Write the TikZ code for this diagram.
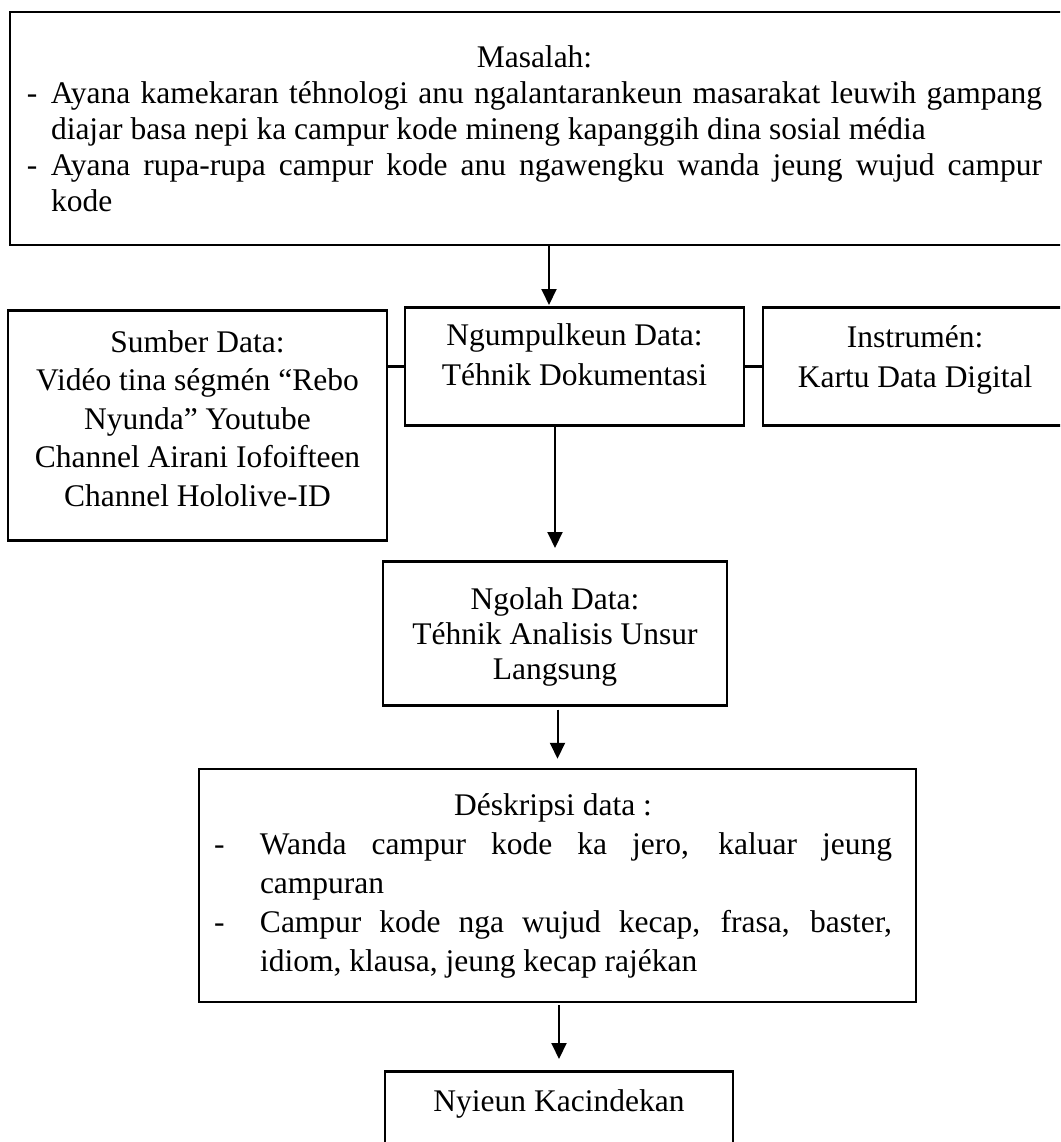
\documentclass[tikz,border=0pt]{standalone}
\usepackage{fontspec}
\setmainfont{Liberation Serif}
\usetikzlibrary{positioning, arrows.meta, calc}

\tikzset{
  box/.style={draw, line width=2.5pt, inner sep=0pt},
  topbox/.style={box, anchor=north},
  arr/.style={line width=2pt, -{Triangle[length=16pt,width=15pt]}},
  link/.style={line width=3pt},
}
\newcommand{\lines}[1]{\begin{tabular}[t]{@{}c@{}}#1\end{tabular}}
\newcommand{\justset}{\parindent=0pt \hyphenpenalty=10000 \tolerance=10000
  \spaceskip=.25em plus 1em minus .08em \xspaceskip=0pt}

\begin{document}
\begin{tikzpicture}[x=1pt, y=-1pt]
    \useasboundingbox (0,0) rectangle (1060,1142);
    \clip (0,0) rectangle (1060,1142);
    % problem box
    \node[box, font=\fontsize{31.5}{36}\selectfont, minimum width=1064pt, minimum height=233pt,
      text width=1047pt, inner xsep=8.5pt] (masalah) at (542,128.5) {%
      \justset \leftskip=8.5pt plus 1fil \rightskip=23.5pt plus 1fil \parfillskip=0pt
      Masalah:\par
      \leftskip=8.5pt \rightskip=23.5pt \parfillskip=0pt plus 1fil
      \hangindent=24pt \makebox[24pt][l]{-}Ayana kamekaran téhnologi anu ngalantarankeun masarakat leuwih gampang\linebreak
      diajar basa nepi ka campur kode mineng kapanggih dina sosial média\par
      \hangindent=24pt \makebox[24pt][l]{-}Ayana rupa-rupa campur kode anu ngawengku wanda jeung wujud campur\linebreak
      kode\par};
    % middle row
    \node[topbox, font=\fontsize{31.5}{38.5}\selectfont, minimum width=379pt,
      text height=42pt, text depth=188pt] (sumber) at (197.5,309)
      {\lines{Sumber Data:\\Vidéo tina ségmén “Rebo\\Nyunda” Youtube\\Channel Airani Iofoifteen\\Channel Hololive-ID}};
    \node[topbox, font=\fontsize{31.5}{40}\selectfont, minimum width=339pt,
      text height=38pt, text depth=80pt] (kumpul) at (574.5,306)
      {\lines{Ngumpulkeun Data:\\Téhnik Dokumentasi}};
    \node[topbox, font=\fontsize{31.5}{40}\selectfont, minimum width=320pt,
      text height=40pt, text depth=78pt] (instrumen) at (923,306)
      {\begin{tabular}[t]{@{}c@{\hspace{16pt}}}Instrumén:\\Kartu Data Digital\end{tabular}};
    % processing
    \node[topbox, font=\fontsize{31.5}{35}\selectfont, minimum width=344pt,
      text height=48pt, text depth=96pt] (olah) at (555,560)
      {\lines{Ngolah Data:\\Téhnik Analisis Unsur\\Langsung}};
    % description
    \node[box, font=\fontsize{31.5}{39}\selectfont, minimum width=717pt, minimum height=233pt,
      text width=687pt, inner xsep=15pt] (deskripsi) at (557.5,885.5) {%
      \justset \leftskip=0pt plus 1fil \rightskip=9pt plus 1fil \parfillskip=0pt
      Déskripsi data :\par
      \leftskip=0pt \rightskip=9pt \parfillskip=0pt plus 1fil
      \hangindent=46pt \makebox[46pt][l]{-}Wanda campur kode ka jero, kaluar jeung\linebreak
      campuran\par
      \hangindent=46pt \makebox[46pt][l]{-}Campur kode nga wujud kecap, frasa, baster,\linebreak
      idiom, klausa, jeung kecap rajékan\par};
    % conclusion
    \node[topbox, font=\fontsize{31.5}{38}\selectfont, minimum width=348pt,
      text height=40pt, text depth=80pt] (nyieun) at (559,1070) {Nyieun Kacindekan};
    % connectors
    \coordinate (a1) at (549,0);
    \draw[arr, shorten >=1pt] (masalah.south -| a1) -- (kumpul.north -| a1);
    \draw[arr, shorten >=12pt] (kumpul.south -| olah.north) -- (olah.north);
    \draw[arr, shorten <=3pt, shorten >=9pt] (olah.south -| deskripsi.north) -- (deskripsi.north);
    \draw[arr, shorten <=2pt, shorten >=11pt] (deskripsi.south -| nyieun.north) -- (nyieun.north);
    \draw[link] (kumpul.west -| sumber.east) -- (kumpul.west);
    \draw[link] (kumpul.east) -- (instrumen.west |- kumpul.east);
\end{tikzpicture}
\end{document}
